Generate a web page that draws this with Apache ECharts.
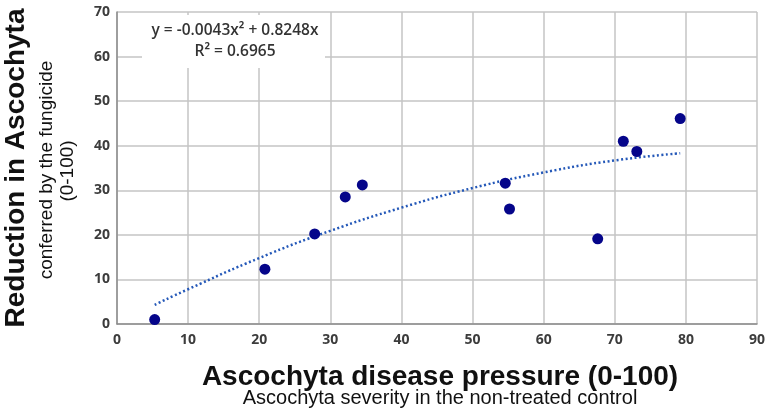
<!DOCTYPE html>
<html>
<head>
<meta charset="utf-8">
<script src="https://cdn.jsdelivr.net/npm/echarts@6/dist/echarts.min.js"></script>
<style>
  html, body { margin: 0; padding: 0; background: #fff; }
  #chart { width: 768px; height: 410px; }
</style>
</head>
<body>
<div id="chart"></div>
<script>
// observed points: disease pressure vs reduction
let pressure = [5.3, 20.8, 27.8, 32.1, 34.5, 54.6, 55.2, 67.6, 71.2, 73.1, 79.2];
let reduction = [1.0, 12.3, 20.2, 28.5, 31.2, 31.6, 25.8, 19.1, 41.0, 38.7, 46.1];

// dotted trendline
let trendX = [5.3, 10, 20, 30, 40, 50, 60, 70, 79.2];
let trendY = [4.3, 7.8, 14.8, 20.9, 26.1, 30.5, 34.0, 36.7, 38.3];

let xTicks = [0, 10, 20, 30, 40, 50, 60, 70, 80, 90];
let yTicks = [0, 10, 20, 30, 40, 50, 60, 70];

let equation = 'y = -0.0043x² + 0.8248x';
let rSquared = 'R² = 0.6965';

let points = [];
for (let i = 0; i < pressure.length; i++) {
  points.push([pressure[i], reduction[i]]);
}
let trend = [];
for (let i = 0; i < trendX.length; i++) {
  trend.push([trendX[i], trendY[i]]);
}

let myChart = echarts.init(document.getElementById('chart'));
let tickFont = {
  color: '#3c3c3c',
  fontSize: 14,
  fontWeight: 'bold',
  fontFamily: 'Open Sans'
};
// titles are drawn as graphic text so they don't squeeze the grid
let titleText = function (text, x, y, font, rotated) {
  return {
    type: 'text',
    x: x,
    y: y,
    rotation: rotated ? Math.PI / 2 : 0,
    style: {
      text: text,
      fill: '#111',
      font: font,
      align: 'center',
      verticalAlign: rotated ? 'top' : 'middle'
    }
  };
};
let option = {
  backgroundColor: '#fff',
  animation: false,
  grid: {
    left: 117,
    right: 8,
    top: 12,
    bottom: 86
  },
  xAxis: {
    type: 'value',
    min: xTicks[0],
    max: xTicks[xTicks.length - 1],
    interval: 10,
    axisLine: {show: true, lineStyle: {color: '#8c8c8c', width: 1.5}},
    axisTick: {show: false},
    splitLine: {show: true, lineStyle: {color: '#c4c4c4', width: 1.5}},
    axisLabel: Object.assign({margin: 9}, tickFont)
  },
  yAxis: {
    type: 'value',
    min: yTicks[0],
    max: yTicks[yTicks.length - 1],
    interval: 10,
    axisLine: {show: true, lineStyle: {color: '#8c8c8c', width: 1.5}},
    axisTick: {show: false},
    splitLine: {show: true, lineStyle: {color: '#c4c4c4', width: 1.5}},
    axisLabel: Object.assign({margin: 7}, tickFont)
  },
  graphic: [
    titleText('Reduction in Ascochyta', 2, 168, 'bold 28px "Liberation Sans"', true),
    titleText('conferred by the fungicide', 37, 170, '19px "Liberation Sans"', true),
    titleText('(0-100)', 58, 171, '19px "Liberation Sans"', true),
    titleText('Ascochyta disease pressure (0-100)', 440, 377, 'bold 28px "Liberation Sans"', false),
    titleText('Ascochyta severity in the non-treated control', 440, 398, '20px "Liberation Sans"', false),
    {
      type: 'rect',
      shape: {x: 142, y: 15, width: 183, height: 53},
      style: {fill: '#fff'},
      z: 10
    },
    {
      type: 'text',
      x: 235,
      y: 31,
      z: 11,
      style: {
        text: equation,
        fill: '#333',
        font: '600 15.5px "Open Sans"',
        align: 'center',
        verticalAlign: 'middle'
      }
    },
    {
      type: 'text',
      x: 235,
      y: 52,
      z: 11,
      style: {
        text: rSquared,
        fill: '#333',
        font: '600 15.5px "Open Sans"',
        align: 'center',
        verticalAlign: 'middle'
      }
    }
  ],
  series: [
    {
      name: 'trend',
      type: 'line',
      smooth: true,
      showSymbol: false,
      lineStyle: {
        color: '#2458b8',
        width: 2.5,
        type: [2, 2.5]
      },
      data: trend,
      z: 2
    },
    {
      name: 'points',
      type: 'scatter',
      symbolSize: 11,
      itemStyle: {color: '#05058a', opacity: 1},
      data: points,
      z: 3
    }
  ]
};
myChart.setOption(option);
</script>
</body>
</html>
